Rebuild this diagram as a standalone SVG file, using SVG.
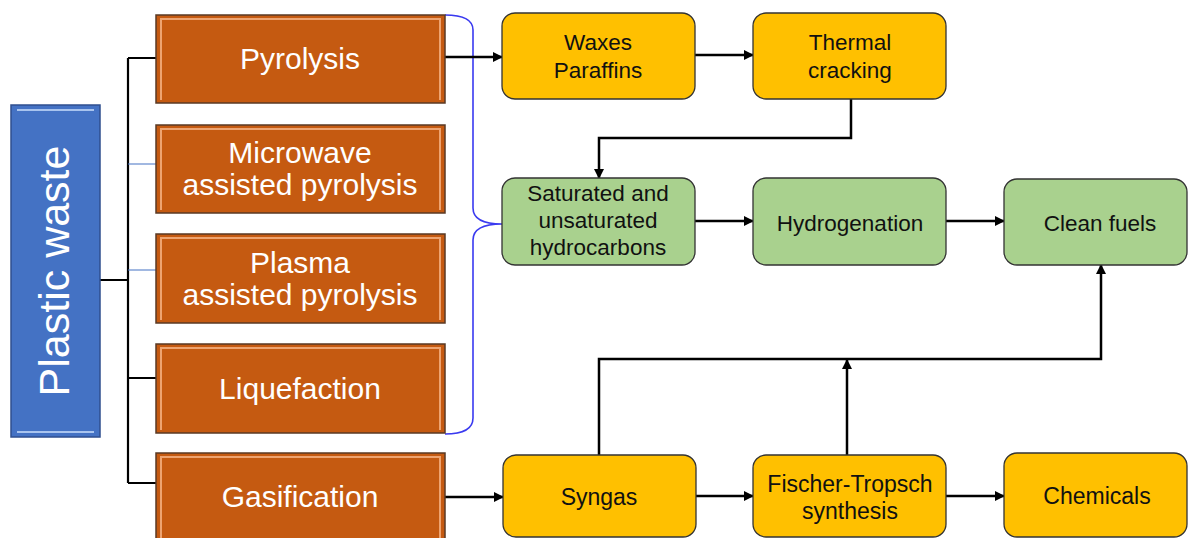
<svg xmlns="http://www.w3.org/2000/svg" width="1188" height="538" viewBox="0 0 1188 538">
<style>
.or{fill:#C55A11;stroke:#5a3a25;stroke-width:1.5}
.orh{fill:none;stroke:#F4B183;stroke-width:2;opacity:0.85}
.bl{fill:#4472C4;stroke:#2f4f8f;stroke-width:1.5}
.blh{fill:none;stroke:#a9c4ee;stroke-width:2}
.ye{fill:#FFC000;stroke:#333;stroke-width:1.3}
.gr{fill:#A9D18E;stroke:#333;stroke-width:1.3}
.tw{fill:#fff;font-family:"Liberation Sans",Arial,sans-serif;font-size:30px;text-anchor:middle}
.tb{fill:#111;font-family:"Liberation Sans",Arial,sans-serif;font-size:22.5px;text-anchor:middle}
.tn{fill:#111;font-family:"Liberation Sans Narrow","Liberation Sans",Arial,sans-serif;font-size:23px;text-anchor:middle}
.ln{fill:none;stroke:#000;stroke-width:2.2}
.lt{fill:none;stroke:#4472C4;stroke-width:1.2}
.ar{fill:none;stroke:#000;stroke-width:2.5;marker-end:url(#ah)}
</style>
<defs>
<marker id="ah" viewBox="0 0 10 10" refX="9" refY="5" markerWidth="4" markerHeight="4" orient="auto" markerUnits="strokeWidth">
<path d="M0,0 L10,5 L0,10 z" fill="#000"/>
</marker>
</defs>
<rect width="1188" height="538" fill="#fff"/>

<g id="connectors">
<path class="ln" d="M100,280 H128 M128,58 V483 M128,58 H156 M128,378 H156 M128,483 H156"/>
<path class="lt" d="M128,164 H156 M128,270 H156"/>
<path d="M445,15 Q473,15 473,30 L473,208 Q473,224 502,224 Q473,224 473,240 L473,418 Q473,434 445,434" fill="none" stroke="#3a3af0" stroke-width="1.6"/>
<path class="ar" d="M445,57 H502"/>
<path class="ar" d="M695,55 H753"/>
<path class="ar" d="M851,99 V138 H599 V178"/>
<path class="ar" d="M695,221 H753"/>
<path class="ar" d="M946,221 H1004"/>
<path class="ar" d="M445,497 H503"/>
<path class="ar" d="M696,496 H753"/>
<path class="ar" d="M946,496 H1004"/>
<path class="ar" d="M599,455 V359 H1101 V265"/>
<path class="ar" d="M847,455 V360"/>
</g>

<g id="plastic-waste">
<rect class="bl" x="11" y="105" width="89" height="332"/>
<path class="blh" d="M17,110 H94 M17,432 H94"/>
<text transform="translate(69,271) rotate(-90)" fill="#fff" font-family="Liberation Sans,Arial,sans-serif" font-size="43" text-anchor="middle">Plastic waste</text>
</g>

<g id="pyrolysis">
<rect class="or" x="156" y="15" width="289" height="88"/>
<path class="orh" d="M161,100 V19 H440 V100"/>
<text class="tw" x="300" y="69">Pyrolysis</text>
</g>
<g id="microwave">
<rect class="or" x="156" y="125" width="289" height="88"/>
<path class="orh" d="M161,210 V129 H440 V210"/>
<text class="tw" x="300" y="163">Microwave</text>
<text class="tw" x="300" y="195">assisted pyrolysis</text>
</g>
<g id="plasma">
<rect class="or" x="156" y="234" width="289" height="89"/>
<path class="orh" d="M161,320 V238 H440 V320"/>
<text class="tw" x="300" y="273">Plasma</text>
<text class="tw" x="300" y="305">assisted pyrolysis</text>
</g>
<g id="liquefaction">
<rect class="or" x="156" y="344" width="289" height="89"/>
<path class="orh" d="M161,430 V348 H440 V430"/>
<text class="tw" x="300" y="399">Liquefaction</text>
</g>
<g id="gasification">
<rect class="or" x="156" y="453" width="289" height="90"/>
<path class="orh" d="M161,540 V457 H440 V540"/>
<text class="tw" x="300" y="507">Gasification</text>
</g>

<g id="waxes">
<rect class="ye" x="502" y="13" width="193" height="86" rx="13"/>
<text class="tb" x="598" y="50">Waxes</text>
<text class="tb" x="598" y="78">Paraffins</text>
</g>
<g id="thermal">
<rect class="ye" x="753" y="13" width="193" height="86" rx="13"/>
<text class="tb" x="850" y="50">Thermal</text>
<text class="tb" x="850" y="78">cracking</text>
</g>
<g id="saturated">
<rect class="gr" x="502" y="178" width="193" height="87" rx="13"/>
<text class="tb" x="598" y="201">Saturated and</text>
<text class="tb" x="598" y="228">unsaturated</text>
<text class="tb" x="598" y="255">hydrocarbons</text>
</g>
<g id="hydrogenation">
<rect class="gr" x="753" y="178" width="193" height="87" rx="13"/>
<text class="tb" x="850" y="231">Hydrogenation</text>
</g>
<g id="clean-fuels">
<rect class="gr" x="1004" y="179" width="183" height="86" rx="13"/>
<text class="tb" x="1100" y="231">Clean fuels</text>
</g>
<g id="syngas">
<rect class="ye" x="503" y="455" width="193" height="82" rx="13"/>
<text class="tn" x="599" y="505">Syngas</text>
</g>
<g id="fischer-tropsch">
<rect class="ye" x="753" y="455" width="193" height="82" rx="13"/>
<text class="tn" x="850" y="492">Fischer-Tropsch</text>
<text class="tn" x="850" y="519">synthesis</text>
</g>
<g id="chemicals">
<rect class="ye" x="1004" y="453" width="183" height="84" rx="13"/>
<text class="tn" x="1097" y="504">Chemicals</text>
</g>
</svg>
